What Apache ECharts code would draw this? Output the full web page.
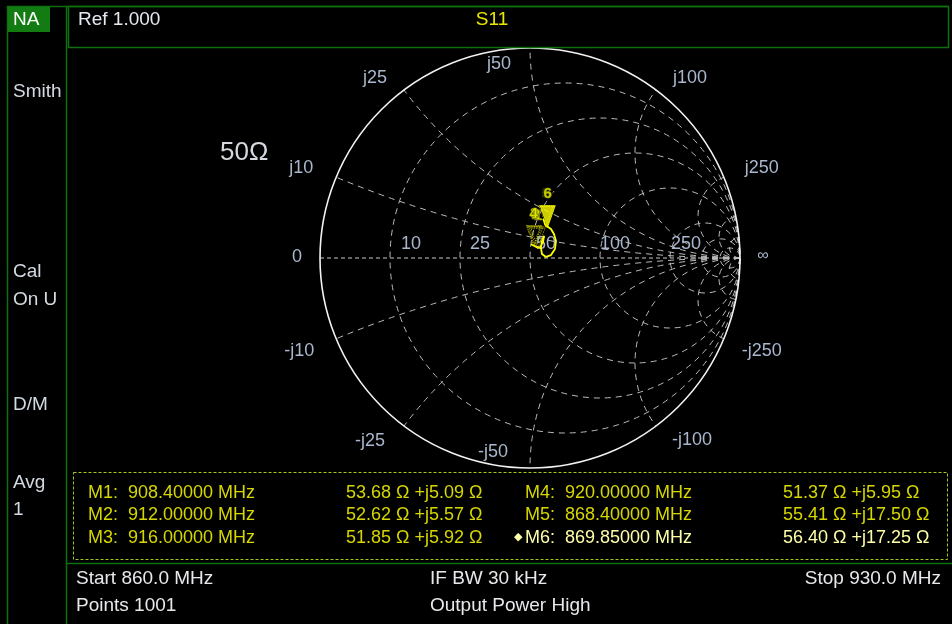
<!DOCTYPE html>
<html><head><meta charset="utf-8">
<script src="https://cdn.jsdelivr.net/npm/echarts@6/dist/echarts.min.js"></script>
<style>html,body{margin:0;padding:0;background:#000;}#c{width:952px;height:624px;}</style>
</head><body><div id="c"></div>
<script>
// ---------- data ----------
const Z0 = 50;
const resistanceTicks = [10, 25, 50, 100, 250];
const reactanceTicks = [10, 25, 50, 100, 250];
const extraTicks = [500, 1000];
const markerNames = ['M1', 'M2', 'M3', 'M4', 'M5', 'M6'];
const markerFreqMHz = [908.4, 912.0, 916.0, 920.0, 868.4, 869.85];
const markerR = [53.68, 52.62, 51.85, 51.37, 55.41, 56.40];
const markerX = [5.09, 5.57, 5.92, 5.95, 17.50, 17.25];
const activeMarker = 5;
// S11 trace (reflection coefficient)
const traceRe = [0.062, 0.067, 0.071, 0.076, 0.086, 0.100, 0.114, 0.124, 0.119, 0.100, 0.076, 0.057, 0.052, 0.057, 0.067, 0.076, 0.062, 0.048, 0.038, 0.029, 0.021, 0.017, 0.010, 0.005];
const traceIm = [0.186, 0.176, 0.162, 0.152, 0.148, 0.138, 0.114, 0.081, 0.043, 0.014, 0.005, 0.019, 0.048, 0.081, 0.105, 0.105, 0.076, 0.052, 0.048, 0.052, 0.057, 0.057, 0.062, 0.067];
const startMHz = 860.0, stopMHz = 930.0, points = 1001;

// ---------- layout (pixel offsets of tick labels) ----------
const rLabelOffset = [[21, -14], [20, -14], [16, -14], [15, -14], [16, -14]];
const xLabelOffsetPos = [[-35, -9], [-29, -12], [-31, 16], [34, -12], [38, -9]];
const xLabelOffsetNeg = [[-37, 12], [-34, 15], [-37, -16], [36, 14], [38, 12]];

const FONT = "'Liberation Sans', Arial, sans-serif";
const LBL = '#a9b7cc';
const GREEN = '#0d6f0d';

function toGamma(R, X) {
  const zr = R / Z0, zi = X / Z0;
  const dr = zr + 1, di = zi, nr = zr - 1, ni = zi;
  const den = dr * dr + di * di;
  return [(nr * dr + ni * di) / den, (ni * dr - nr * di) / den];
}

function renderGrid(params, api) {
  const ch = [];
  const gs = { stroke: '#bcbcbc', lineWidth: 1, lineDash: [6, 5], fill: 'none' };
  const c0 = api.coord([0, 0]);
  const R = api.size([1, 1])[0];
  const pl = api.coord([-1, 0]), pr = api.coord([1, 0]);
  ch.push({ type: 'line', shape: { x1: pl[0], y1: pl[1], x2: pr[0], y2: pr[1] }, style: { stroke: '#c8c8c8', lineWidth: 1, lineDash: [4, 3] } });
  resistanceTicks.concat(extraTicks).forEach(function (v) {
    const r = v / Z0;
    const c = api.coord([r / (1 + r), 0]);
    const rad = api.size([1 / (1 + r), 0])[0];
    ch.push({ type: 'circle', shape: { cx: c[0], cy: c[1], r: rad }, style: gs });
  });
  reactanceTicks.concat(extraTicks).forEach(function (v) {
    [1, -1].forEach(function (s) {
      const x = s * v / Z0;
      const c = api.coord([1, 1 / x]);
      const rad = Math.abs(api.size([0, 1 / x])[1]);
      const rim = api.coord([(x * x - 1) / (x * x + 1), 2 * x / (x * x + 1)]);
      const a1 = Math.atan2(pr[1] - c[1], pr[0] - c[0]);
      const a2 = Math.atan2(rim[1] - c[1], rim[0] - c[0]);
      let d = a2 - a1;
      while (d > Math.PI) d -= 2 * Math.PI;
      while (d < -Math.PI) d += 2 * Math.PI;
      ch.push({ type: 'arc', shape: { cx: c[0], cy: c[1], r: rad, startAngle: a1, endAngle: a1 + d, clockwise: d > 0 }, style: gs });
    });
  });
  ch.push({ type: 'circle', shape: { cx: c0[0], cy: c0[1], r: R }, style: { stroke: '#f2f2f2', lineWidth: 1.6, fill: 'none' } });

  function label(txt, p, off, size) {
    ch.push({ type: 'text', x: p[0] + off[0], y: p[1] + off[1],
      style: { text: txt, fill: LBL, font: (size || 18) + 'px ' + FONT, align: 'center', verticalAlign: 'middle' } });
  }
  resistanceTicks.forEach(function (v, i) {
    const r = v / Z0;
    label(String(v), api.coord([(r - 1) / (r + 1), 0]), rLabelOffset[i]);
  });
  reactanceTicks.forEach(function (v, i) {
    const x = v / Z0;
    const g = [(x * x - 1) / (x * x + 1), 2 * x / (x * x + 1)];
    label('j' + v, api.coord(g), xLabelOffsetPos[i]);
    label('-j' + v, api.coord([g[0], -g[1]]), xLabelOffsetNeg[i]);
  });
  label('0', pl, [-23, -1]);
  label('\u221e', pr, [23, -2], 16);
  return { type: 'group', children: ch };
}

const traceData = traceRe.map(function (v, i) { return [v, traceIm[i]]; });
const inactiveData = [], activeData = [];
markerNames.forEach(function (n, i) {
  const item = { name: n.slice(1), value: toGamma(markerR[i], markerX[i]) };
  (i === activeMarker ? activeData : inactiveData).push(item);
});

function fmtOhm(r, x) { return r.toFixed(2) + ' \u03a9 +j' + x.toFixed(2) + ' \u03a9'; }

const graphic = [];
function txt(t, x, y, color, size, align) {
  graphic.push({ type: 'text', x: x, y: y, silent: true, z: 10,
    style: { text: t, fill: color, font: (size || 19) + 'px ' + FONT, align: align || 'left', verticalAlign: 'middle' } });
}
function line(x1, y1, x2, y2, color, w, dash) {
  graphic.push({ type: 'line', silent: true, z: 9, shape: { x1: x1, y1: y1, x2: x2, y2: y2 },
    style: { stroke: color, lineWidth: w || 1, lineDash: dash || null } });
}
// frame
line(7.5, 6, 7.5, 624, GREEN, 1.5);
line(7, 6.5, 949, 6.5, GREEN, 1.5);
line(66.5, 6, 66.5, 624, GREEN, 1.5);
graphic.push({ type: 'rect', silent: true, z: 9, shape: { x: 68.5, y: 6.5, width: 880, height: 41 }, style: { fill: 'none', stroke: GREEN, lineWidth: 1.5 } });
line(66, 563.5, 952, 563.5, GREEN, 1.5);
graphic.push({ type: 'rect', silent: true, z: 9, shape: { x: 8, y: 7, width: 42, height: 25 }, style: { fill: '#127c12' } });
graphic.push({ type: 'rect', silent: true, z: 9, shape: { x: 73.5, y: 472.5, width: 874, height: 87 }, style: { fill: 'none', stroke: '#a2c81e', lineWidth: 1, lineDash: [3, 2] } });
// left panel
txt('NA', 13, 19.5, '#ffffff', 19);
txt('Smith', 13, 92, '#d4dae2');
txt('Cal', 13, 272, '#d4dae2');
txt('On U', 13, 300, '#d4dae2');
txt('D/M', 13, 405, '#d4dae2');
txt('Avg', 13, 483, '#d4dae2');
txt('1', 13, 510, '#d4dae2');
// header
txt('Ref 1.000', 78, 20, '#e6e8f0');
txt('S11', 492, 20, '#e8e800', 19, 'center');
txt('50\u03a9', 220, 153, '#d6d8e0', 26);
// marker table
const colX = [[88, 346], [525, 783]];
const rowY = [493, 515, 538];
markerNames.forEach(function (n, i) {
  const col = Math.floor(i / 3), row = i % 3;
  const c = i === activeMarker ? '#ffffa8' : '#d6d600';
  txt(n + ':  ' + markerFreqMHz[i].toFixed(5) + ' MHz', colX[col][0], rowY[row], c, 18);
  txt(fmtOhm(markerR[i], markerX[i]), colX[col][1], rowY[row], c, 18);
  if (i === activeMarker) txt('\u25c6', colX[col][0] - 3, rowY[row] - 1, '#ffffa8', 11, 'right');
});
// footer
txt('Start ' + startMHz.toFixed(1) + ' MHz', 76, 579, '#e8e8ec');
txt('IF BW 30 kHz', 430, 579, '#e8e8ec');
txt('Stop ' + stopMHz.toFixed(1) + ' MHz', 941, 579, '#e8e8ec', 19, 'right');
txt('Points ' + points, 76, 606, '#e8e8ec');
txt('Output Power High', 430, 606, '#e8e8ec');

const markerLabel = { show: true, position: 'top', distance: 4, formatter: '{b}', color: '#f0f000',
  fontSize: 15, fontWeight: 'bold', fontFamily: FONT, textBorderColor: '#4a5a00', textBorderWidth: 1 };
const chart = echarts.init(document.getElementById('c'), null, { renderer: 'canvas', width: 952, height: 624 });
chart.setOption({
  backgroundColor: '#000',
  animation: false,
  grid: { left: 320, top: 48, width: 420, height: 420 },
  xAxis: { type: 'value', min: -1, max: 1, show: false },
  yAxis: { type: 'value', min: -1, max: 1, show: false },
  series: [
    { type: 'custom', renderItem: renderGrid, data: [[0, 0]], silent: true, clip: false, z: 1 },
    { type: 'line', data: traceData, showSymbol: false, silent: true, z: 3,
      lineStyle: { color: '#ffff00', width: 1.8 } },
    { type: 'scatter', data: inactiveData, silent: true, z: 4,
      symbol: 'path://M0,0 L10,0 L5,14 Z', symbolSize: [14, 20], symbolOffset: [0, '-50%'],
      itemStyle: { color: 'rgba(0,0,0,0)', borderColor: '#e6e600', borderWidth: 1, borderType: 'dotted' },
      label: markerLabel },
    { type: 'scatter', data: activeData, silent: true, z: 5, zlevel: 1,
      symbol: 'path://M0,0 L10,0 L5,14 Z', symbolSize: [15, 21], symbolOffset: [0, '-50%'],
      itemStyle: { color: '#ffff00', borderColor: '#ffff00', borderWidth: 1 },
      label: Object.assign({}, markerLabel, { backgroundColor: '#000', padding: [0, 1] }) }
  ],
  graphic: graphic
});
</script></body></html>
